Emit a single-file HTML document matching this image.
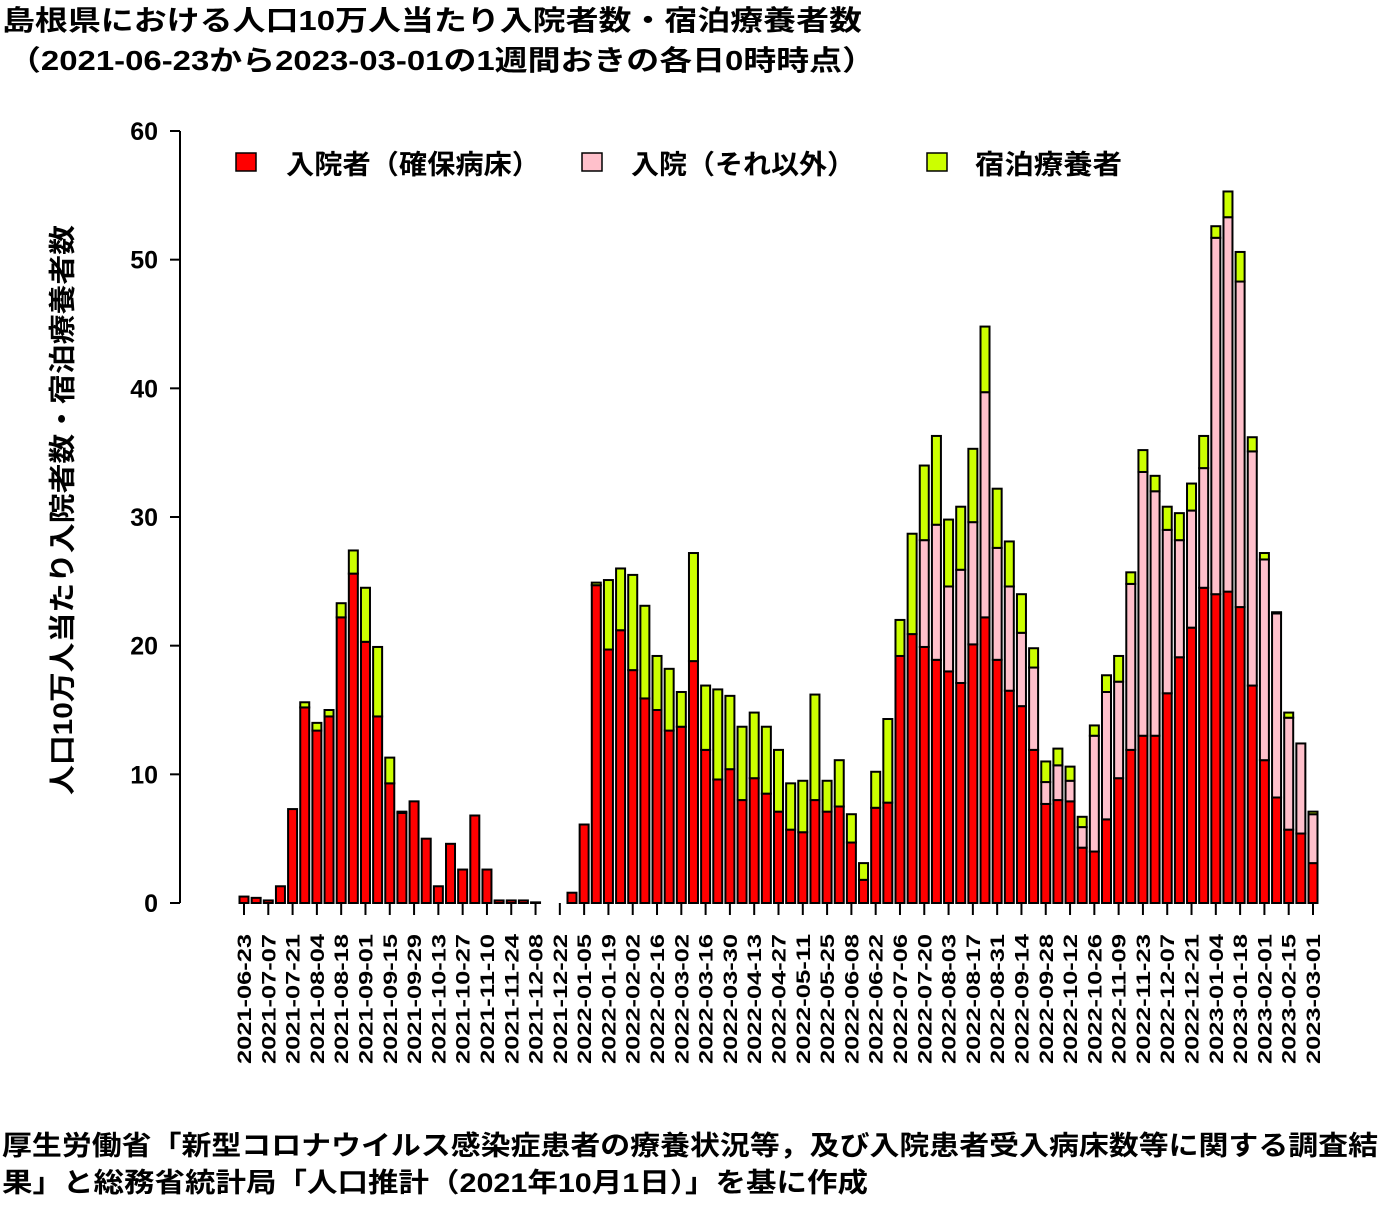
<!DOCTYPE html>
<html><head><meta charset="utf-8"><style>
body{margin:0;background:#fff;}
svg{font-family:"Liberation Sans","Noto Sans CJK JP",sans-serif;font-weight:bold;}
</style></head><body>
<svg id="chart" width="1400" height="1200" viewBox="0 0 1400 1200">
<text x="2" y="30" font-size="28" textLength="860" lengthAdjust="spacingAndGlyphs">島根県における人口10万人当たり入院者数・宿泊療養者数</text>
<text x="8" y="70" font-size="28" textLength="867" lengthAdjust="spacingAndGlyphs">（2021-06-23から2023-03-01の1週間おきの各日0時時点）</text>
<text transform="translate(72,510) rotate(-90)" text-anchor="middle" font-size="27" textLength="570" lengthAdjust="spacingAndGlyphs">人口10万人当たり入院者数・宿泊療養者数</text>
<g>
<rect x="236" y="153" width="20" height="18" fill="#ff0000" stroke="#000" stroke-width="1.5"/>
<text x="286" y="174" font-size="27" textLength="254" lengthAdjust="spacingAndGlyphs">入院者（確保病床）</text>
<rect x="582" y="153" width="20" height="18" fill="#ffc0cb" stroke="#000" stroke-width="1.5"/>
<text x="631" y="174" font-size="27" textLength="224" lengthAdjust="spacingAndGlyphs">入院（それ以外）</text>
<rect x="927" y="153" width="20" height="18" fill="#ccff00" stroke="#000" stroke-width="1.5"/>
<text x="975" y="174" font-size="27" textLength="147" lengthAdjust="spacingAndGlyphs">宿泊療養者</text>
</g>
<g id="axes"></g>
<g id="bars"></g>
<text x="2" y="1155" font-size="27" textLength="1376" lengthAdjust="spacingAndGlyphs">厚生労働省「新型コロナウイルス感染症患者の療養状況等，及び入院患者受入病床数等に関する調査結</text>
<text x="2" y="1192" font-size="27" textLength="866" lengthAdjust="spacingAndGlyphs">果」と総務省統計局「人口推計（2021年10月1日）」を基に作成</text>
</svg>
<script>
const startDate = "2021-06-23";
const redVals = [0.5,0.4,0.2,1.3,7.3,15.2,13.4,14.5,22.2,25.6,20.3,14.5,9.3,7.0,7.9,5.0,1.3,4.6,2.6,6.8,2.6,0.2,0.2,0.2,0.05,0,0,0.8,6.1,24.7,19.7,21.2,18.1,15.9,15.0,13.4,13.7,18.8,11.9,9.6,10.4,8.0,9.7,8.5,7.1,5.7,5.5,8.0,7.1,7.5,4.7,1.8,7.4,7.8,19.2,20.9,19.9,18.9,18.0,17.1,20.1,22.2,18.9,16.5,15.3,11.9,7.7,8.0,7.9,4.3,4.0,6.5,9.7,11.9,13.0,13.0,16.3,19.1,21.4,24.5,24.0,24.2,23.0,16.9,11.1,8.2,5.7,5.4,3.1];
const pinkVals = [0,0,0,0,0,0,0,0,0,0,0,0,0,0,0,0,0,0,0,0,0,0,0,0,0,0,0,0,0,0,0,0,0,0,0,0,0,0,0,0,0,0,0,0,0,0,0,0,0,0,0,0,0,0,0,0,8.3,10.5,6.6,8.8,9.5,17.5,8.7,8.1,5.7,6.4,1.7,2.7,1.6,1.6,9.0,9.9,7.5,12.9,20.5,19.0,12.7,9.1,9.1,9.3,27.7,29.1,25.3,18.2,15.6,14.3,8.7,7.0,3.8];
const greenVals = [0,0,0,0,0,0.4,0.6,0.5,1.1,1.8,4.2,5.4,2.0,0.1,0,0,0,0,0,0,0,0,0,0,0,0,0,0,0,0.2,5.4,4.8,7.4,7.2,4.2,4.8,2.7,8.4,5.0,7.0,5.7,5.7,5.1,5.2,4.8,3.6,4.0,8.2,2.4,3.6,2.2,1.3,2.8,6.5,2.8,7.8,5.8,6.9,5.2,4.9,5.7,5.1,4.6,3.5,3.0,1.5,1.6,1.3,1.1,0.8,0.8,1.3,2.0,0.9,1.7,1.2,1.8,2.1,2.1,2.5,0.9,2.0,2.3,1.1,0.5,0.1,0.4,0,0.2];
const yTicks = [0,10,20,30,40,50,60];
const NS="http://www.w3.org/2000/svg";
const x0=244, x1=1313, y0=903, yTop=131, yMax=60;
const n=redVals.length;
const xs=i=>x0+i*(x1-x0)/(n-1);
const ys=v=>y0-v*(y0-yTop)/yMax;
function mk(tag,attrs,parent){const e=document.createElementNS(NS,tag);for(const k in attrs)e.setAttribute(k,attrs[k]);parent.appendChild(e);return e;}
const axes=document.getElementById('axes'), bars=document.getElementById('bars');
let ax=mk('line',{x1:180,y1:ys(0),x2:180,y2:ys(60),stroke:'#000','stroke-width':2},axes);


yTicks.forEach(t=>{
  let l=mk('line',{x1:170,y1:ys(t),x2:180,y2:ys(t),stroke:'#000','stroke-width':2},axes);
  
  
  let tx=mk('text',{x:158,y:ys(t)+9,'text-anchor':'end','font-size':25},axes);
  
  
  tx.textContent=t;
});
function dateStr(i){const d=new Date(startDate+"T00:00:00Z");d.setUTCDate(d.getUTCDate()+7*i);return d.toISOString().slice(0,10);}
const bw=9;
for(let i=0;i<n;i++){
  const x=xs(i);
  const segs=[[0,redVals[i],'#ff0000','bar-secured'],[redVals[i],redVals[i]+pinkVals[i],'#ffc0cb','bar-other'],[redVals[i]+pinkVals[i],redVals[i]+pinkVals[i]+greenVals[i],'#ccff00','bar-hotel']];
  segs.forEach(s=>{
    if(s[1]-s[0]<=0)return;
    let r=mk('rect',{x:x-bw/2,y:ys(s[1]),width:bw,height:ys(s[0])-ys(s[1]),fill:s[2],stroke:'#000','stroke-width':2},bars);
    
    
  });
  if(i%2===0){
    let tk=mk('line',{x1:x,y1:y0,x2:x,y2:y0+12,stroke:'#000','stroke-width':2},axes);
    
    
    let tl=mk('text',{transform:`translate(${x+7},${y0+31}) rotate(-90)`,'text-anchor':'end','font-size':19,textLength:130,lengthAdjust:'spacingAndGlyphs'},axes);
    
    
    tl.textContent=dateStr(i);
  }
}
</script>
</body></html>
